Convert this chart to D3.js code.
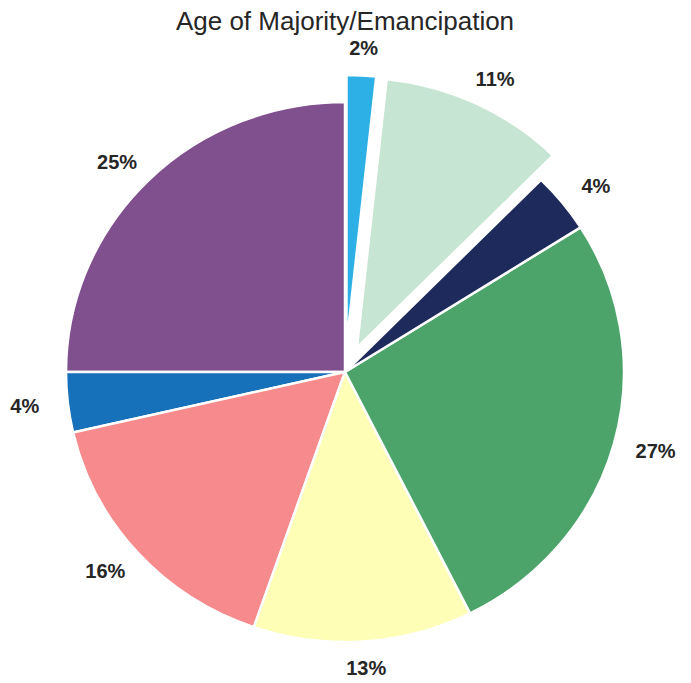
<!DOCTYPE html>
<html>
<head>
<meta charset="utf-8">
<script src="https://cdn.jsdelivr.net/npm/d3@7"></script>
<style>
  body { margin: 0; background: #fff; }
  svg { display: block; }
</style>
</head>
<body>
<svg></svg>
<script>
var screen = {width: 691, height: 683};
var center = {x: 345, y: 372};
var radius = {x: 279, y: 270};

// slices in drawing order, counter-clockwise from 12 o'clock
var categories = ["A", "B", "C", "D", "E", "F", "G", "H"];
var shares = [25, 3.6, 16.1, 12.7, 26.6, 3.6, 10.7, 1.7];
var explode = [0, 0, 0, 0, 0, 0, 0.1, 0.1];
var colors = ["#804f8e", "#1670ba", "#f78a8c", "#fefeb6", "#4ca46a", "#1f2a5c", "#c6e5d2", "#2db0e6"];

var title = "Age of Majority/Emancipation";

var svg = d3.select("svg")
    .attr("width", screen.width)
    .attr("height", screen.height);

svg.append("text")
    .attr("x", center.x)
    .attr("y", 30)
    .attr("text-anchor", "middle")
    .style("font-family", "Liberation Sans, Arial, sans-serif")
    .style("font-size", "26px")
    .style("fill", "#262626")
    .text(title);

var rows = categories.map(function(c, i){
    return {name: c, value: shares[i], explode: explode[i], color: colors[i]};
});

// negative end angle -> counter-clockwise like the original
var pie = d3.pie().sort(null).value(function(d){ return d.value; })
    .startAngle(0).endAngle(-2 * Math.PI);
var slices = pie(rows);
var total = d3.sum(shares);

var r = radius.x;
var sy = radius.y / radius.x;
var arc = d3.arc().innerRadius(0).outerRadius(r);

var mid = function(d){ return (d.startAngle + d.endAngle) / 2; };
var offset = function(d){
    var a = mid(d);
    return [d.data.explode * r * Math.sin(a), -d.data.explode * r * Math.cos(a)];
};

var pieG = svg.append("g")
    .attr("transform", "translate(" + center.x + "," + center.y + ") scale(1," + sy + ")");

pieG.selectAll("path")
    .data(slices)
    .enter()
    .append("path")
    .attr("transform", function(d){ var o = offset(d); return "translate(" + o[0] + "," + o[1] + ")"; })
    .attr("d", arc)
    .attr("fill", function(d){ return d.data.color; })
    .attr("stroke", "#fff")
    .attr("stroke-width", 2.5)
    .attr("vector-effect", "non-scaling-stroke")
    .attr("stroke-linejoin", "round");

var fmt = d3.format(".0f");
var labelDist = {x: 1.155, y: 1.10};

svg.append("g").selectAll("text")
    .data(slices)
    .enter()
    .append("text")
    .attr("x", function(d){ var o = offset(d); return center.x + o[0] + labelDist.x * r * Math.sin(mid(d)); })
    .attr("y", function(d){ var o = offset(d); return center.y + (o[1] - labelDist.y * r * Math.cos(mid(d))) * sy; })
    .attr("dy", "0.35em")
    .attr("text-anchor", "middle")
    .style("font-family", "Liberation Sans, Arial, sans-serif")
    .style("font-size", "20px")
    .style("font-weight", "bold")
    .style("fill", "#262626")
    .text(function(d){ return fmt(d.data.value / total * 100) + "%"; });
</script>
</body>
</html>
